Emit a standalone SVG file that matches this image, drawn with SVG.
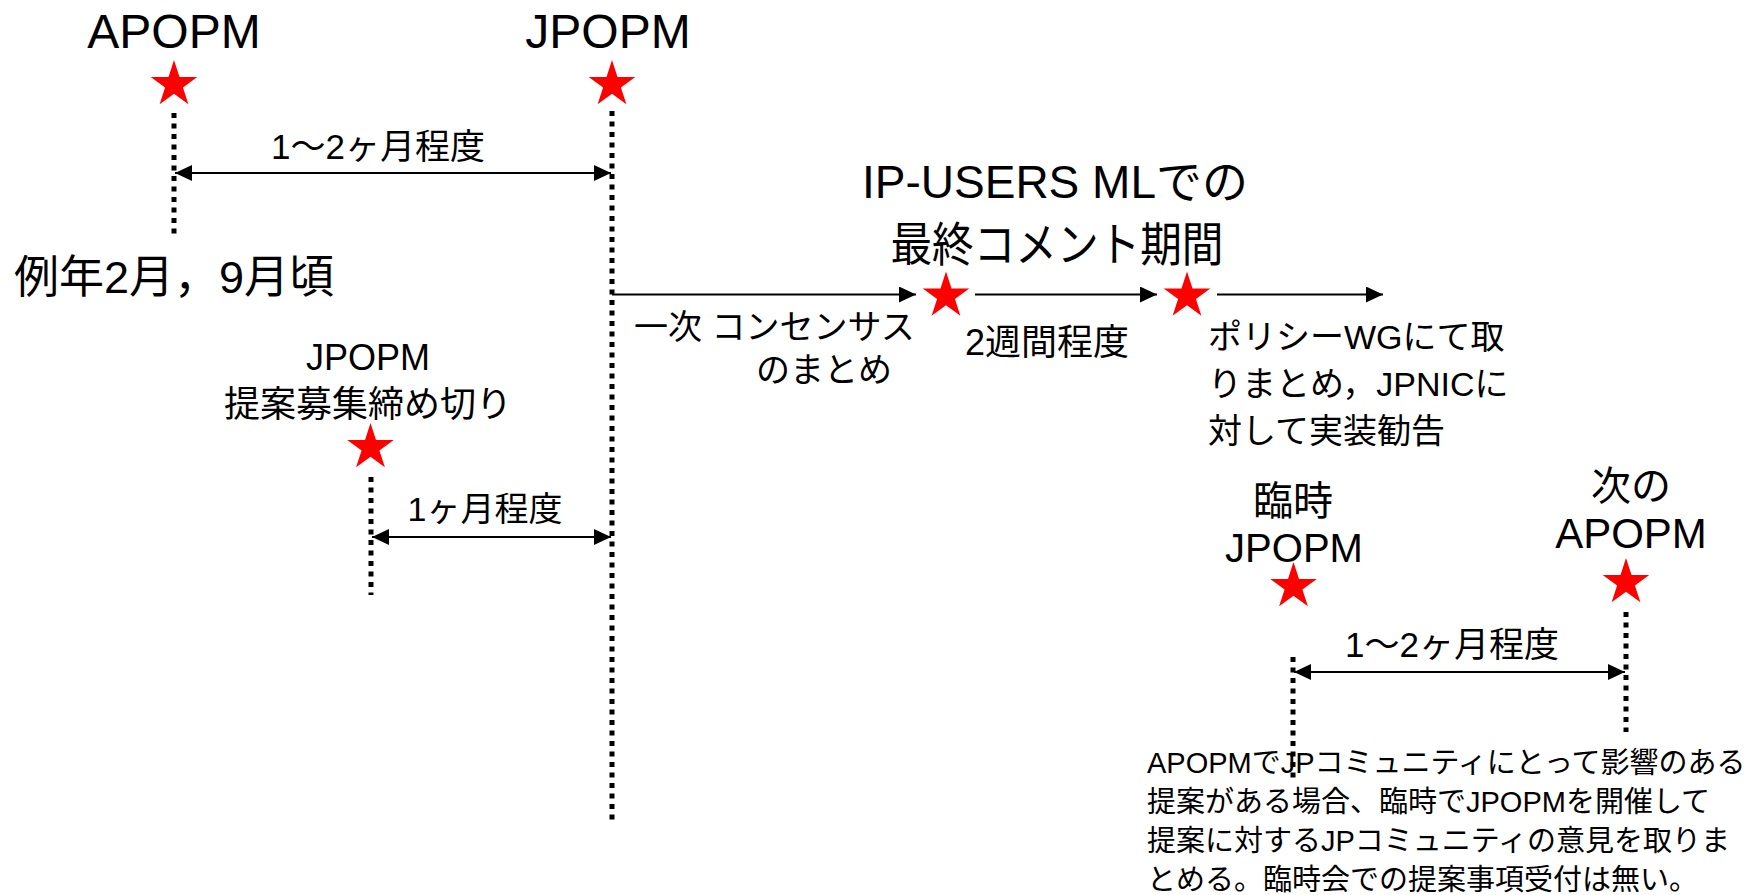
<svg xmlns="http://www.w3.org/2000/svg" xmlns:xlink="http://www.w3.org/1999/xlink" width="1749" height="895" viewBox="0 0 1749 895">
<style>
text{font-family:"Liberation Sans","Noto Sans CJK JP",sans-serif;fill:#000}
.mid{text-anchor:middle}
.dot{stroke:#000;stroke-width:5;stroke-dasharray:5 5.5;fill:none}
.arr{stroke:#000;stroke-width:2;fill:none}
.star{fill:#ff0000}
</style>
<defs>
<path id="star" d="M0,-24.5 L5.5,-7.57 L23.3,-7.57 L8.9,2.89 L14.4,19.82 L0,9.36 L-14.4,19.82 L-8.9,2.89 L-23.3,-7.57 L-5.5,-7.57 Z"/>
<marker id="ah" markerUnits="userSpaceOnUse" markerWidth="18" markerHeight="17" refX="17" refY="8" orient="auto-start-reverse" viewBox="0 0 18 17">
<path d="M0,0 L17,8 L0,16 Z" fill="#000"/>
</marker>
</defs>
<rect width="1749" height="895" fill="#fff"/>

<g id="apopm">
<text class="mid" x="174" y="48" font-size="48">APOPM</text>
<use xlink:href="#star" class="star" x="174" y="84.5"/>
<text x="14" y="293" font-size="45">例年2月，9月頃</text>
</g>

<g id="jpopm">
<text class="mid" x="608" y="48" font-size="48">JPOPM</text>
<use xlink:href="#star" class="star" x="612" y="84.5"/>
</g>

<g id="deadline">
<text class="mid" x="368" y="370" font-size="36">JPOPM</text>
<text class="mid" x="368" y="417" font-size="36">提案募集締め切り</text>
<use xlink:href="#star" class="star" x="370.5" y="447.5"/>
</g>

<g id="final-comment">
<text class="mid" x="1055" y="198" font-size="46">IP-USERS MLでの</text>
<text class="mid" x="1057" y="261" font-size="47" textLength="333" lengthAdjust="spacingAndGlyphs">最終コメント期間</text>
<use xlink:href="#star" class="star" x="946" y="296"/>
</g>

<g id="recommend">
<use xlink:href="#star" class="star" x="1187" y="296"/>
<text x="1208" y="349" font-size="34">ポリシーWGにて取</text>
<text x="1208" y="396" font-size="34">りまとめ，JPNICに</text>
<text x="1208" y="443" font-size="34">対して実装勧告</text>
</g>

<g id="extra-jpopm">
<text class="mid" x="1293" y="515" font-size="40">臨時</text>
<text class="mid" x="1294" y="562" font-size="40">JPOPM</text>
<use xlink:href="#star" class="star" x="1293.5" y="586.5"/>
</g>

<g id="next-apopm">
<text class="mid" x="1631" y="500" font-size="40">次の</text>
<text class="mid" x="1631" y="548" font-size="42">APOPM</text>
<use xlink:href="#star" class="star" x="1626" y="582.5"/>
</g>

<g id="note">
<text x="1147" y="773" font-size="29">APOPMでJPコミュニティにとって影響のある</text>
<text x="1147" y="812" font-size="29">提案がある場合、臨時でJPOPMを開催して</text>
<text x="1147" y="851" font-size="29">提案に対するJPコミュニティの意見を取りま</text>
<text x="1147" y="890" font-size="29">とめる。臨時会での提案事項受付は無い。</text>
</g>

<g id="connectors">
<line class="dot" x1="174" y1="113" x2="174" y2="234"/>
<line class="dot" x1="612" y1="111" x2="612" y2="823"/>
<line class="dot" x1="371" y1="477" x2="371" y2="595"/>
<line class="dot" x1="1293" y1="657" x2="1293" y2="778"/>
<line class="dot" x1="1626" y1="612" x2="1626" y2="732"/>
<line class="arr" x1="175" y1="173" x2="611" y2="173" marker-start="url(#ah)" marker-end="url(#ah)"/>
<line class="arr" x1="372" y1="537" x2="611" y2="537" marker-start="url(#ah)" marker-end="url(#ah)"/>
<line class="arr" x1="1294" y1="672" x2="1625" y2="672" marker-start="url(#ah)" marker-end="url(#ah)"/>
<line class="arr" x1="612" y1="294.5" x2="916" y2="294.5" marker-end="url(#ah)"/>
<line class="arr" x1="975" y1="294.5" x2="1157" y2="294.5" marker-end="url(#ah)"/>
<line class="arr" x1="1217" y1="294.5" x2="1383" y2="294.5" marker-end="url(#ah)"/>
</g>

<g id="labels">
<text class="mid" x="378" y="159" font-size="35">1〜2ヶ月程度</text>
<text class="mid" x="485" y="521" font-size="34">1ヶ月程度</text>
<text x="634" y="339" font-size="34">一次 コンセンサス</text>
<text class="mid" x="824" y="382" font-size="34">のまとめ</text>
<text x="965" y="355" font-size="36">2週間程度</text>
<text class="mid" x="1452" y="657" font-size="35">1〜2ヶ月程度</text>
</g>
</svg>
